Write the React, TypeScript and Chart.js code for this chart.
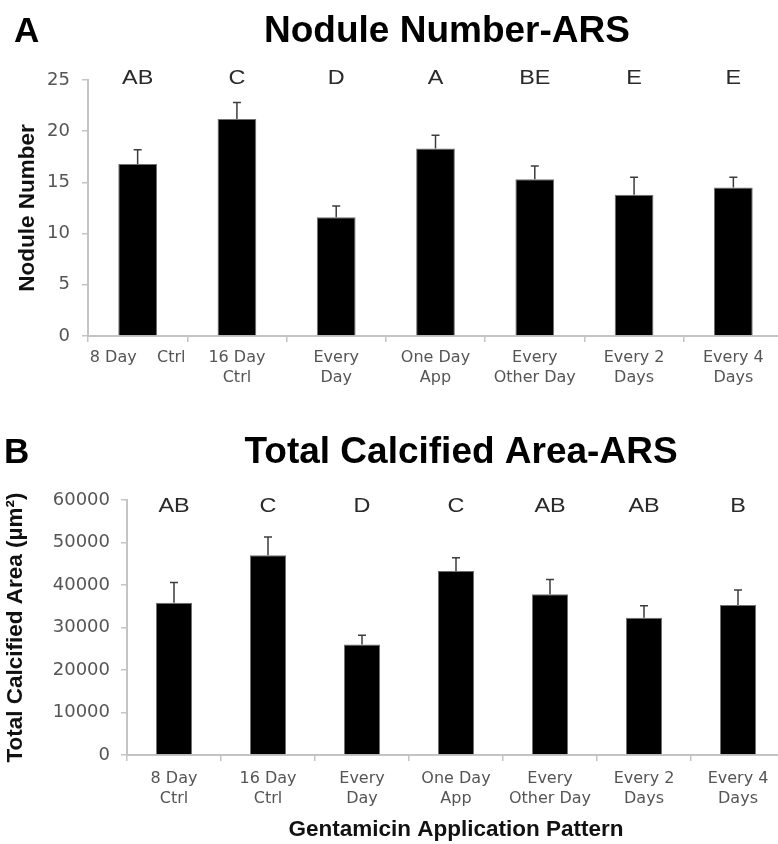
import React, { useEffect, useRef } from "react";
import { Chart, registerables } from "chart.js";

Chart.register(...registerables);

// ---------- Data ----------
const categoriesA: (string | string[])[] = [
  "8 Day    Ctrl",
  ["16 Day", "Ctrl"],
  ["Every", "Day"],
  ["One Day", "App"],
  ["Every", "Other Day"],
  ["Every 2", "Days"],
  ["Every 4", "Days"],
];
const categoriesB: (string | string[])[] = [
  ["8 Day", "Ctrl"],
  ["16 Day", "Ctrl"],
  ["Every", "Day"],
  ["One Day", "App"],
  ["Every", "Other Day"],
  ["Every 2", "Days"],
  ["Every 4", "Days"],
];

const noduleMeans = [16.8, 21.2, 11.6, 18.3, 15.3, 13.8, 14.5];
const noduleErrors = [1.4, 1.6, 1.1, 1.3, 1.3, 1.7, 1.0];
const noduleLetters = ["AB", "C", "D", "A", "BE", "E", "E"];
const noduleTicks = [0, 5, 10, 15, 20, 25];

const areaMeans = [35800, 47000, 26000, 43300, 37800, 32300, 35300];
const areaErrors = [4800, 4300, 2200, 3100, 3500, 2800, 3500];
const areaLetters = ["AB", "C", "D", "C", "AB", "AB", "B"];
const areaTicks = [0, 10000, 20000, 30000, 40000, 50000, 60000];

// ---------- Overlay plugin (error bars, letters, titles) ----------
const overlayPlugin = {
  id: "overlay",
  afterDatasetsDraw(chart: any, _args: any, opts: any) {
    const { ctx } = chart;
    const y = chart.scales.y;
    const meta = chart.getDatasetMeta(0);
    ctx.save();
    // error bars (upper only)
    ctx.strokeStyle = "#3c3c3c";
    ctx.lineWidth = 1.5;
    meta.data.forEach((bar: any, i: number) => {
      const v = opts.means[i];
      const e = opts.errors[i];
      const yBase = y.getPixelForValue(v);
      const yTop = y.getPixelForValue(v + e);
      ctx.beginPath();
      ctx.moveTo(bar.x, yBase);
      ctx.lineTo(bar.x, yTop);
      ctx.moveTo(bar.x - 4, yTop);
      ctx.lineTo(bar.x + 4, yTop);
      ctx.stroke();
    });
    // significance letters
    ctx.fillStyle = "#2a2a2a";
    ctx.font = '19.5px "Liberation Sans", Arial, sans-serif';
    ctx.textAlign = "center";
    ctx.textBaseline = "middle";
    const ly = y.getPixelForValue(y.max) + opts.letterOffset;
    meta.data.forEach((bar: any, i: number) => {
      ctx.save();
      ctx.translate(bar.x, ly);
      ctx.scale(1.2, 1);
      ctx.fillText(opts.letters[i], 0, 0);
      ctx.restore();
    });
    // title
    ctx.fillStyle = "#000";
    ctx.textBaseline = "alphabetic";
    ctx.font = 'bold 37px "Liberation Sans", Arial, sans-serif';
    ctx.textAlign = "center";
    ctx.fillText(opts.title, opts.titleX, opts.titleBaseline);
    // panel letter
    ctx.textAlign = "left";
    ctx.font = 'bold 35px "Liberation Sans", Arial, sans-serif';
    ctx.fillText(opts.panel, opts.panelX, opts.titleBaseline);
    ctx.restore();
  },
};

type PanelProps = {
  top: number;
  height: number;
  labels: (string | string[])[];
  means: number[];
  errors: number[];
  letters: string[];
  ticks: number[];
  yTitle: string;
  yTitlePad: number;
  xTitle?: string;
  title: string;
  titleX: number;
  titleBaseline: number;
  panel: string;
  panelX: number;
  letterOffset: number;
  yWidth: number;
  xHeight: number;
  padTop: number;
  padRight: number;
  barPct: number;
  yTickPad: number;
  xTickPad: number;
};

function Panel(p: PanelProps) {
  const ref = useRef<HTMLCanvasElement | null>(null);
  useEffect(() => {
    if (!ref.current) return;
    const axisColor = "#c4c4c4";
    const chart = new Chart(ref.current, {
      type: "bar",
      data: {
        labels: p.labels as any,
        datasets: [
          {
            data: p.means,
            backgroundColor: "#000000",
            borderColor: "#707070",
            borderWidth: 1,
            barPercentage: p.barPct,
            categoryPercentage: 1,
          },
        ],
      },
      options: {
        responsive: false,
        animation: false,
        layout: { padding: { top: p.padTop, right: p.padRight, bottom: 0, left: 0 } },
        plugins: {
          legend: { display: false },
          tooltip: { enabled: false },
          title: { display: false },
          overlay: {
            means: p.means,
            errors: p.errors,
            letters: p.letters,
            title: p.title,
            titleX: p.titleX,
            titleBaseline: p.titleBaseline,
            panel: p.panel,
            panelX: p.panelX,
            letterOffset: p.letterOffset,
          },
        } as any,
        scales: {
          x: {
            grid: {
              display: true,
              drawOnChartArea: false,
              color: axisColor,
              lineWidth: 1.5,
              tickLength: 6,
              offset: true,
            },
            border: { color: axisColor, width: 2 },
            ticks: {
              color: "#555",
              font: { family: "DejaVu Sans", size: 16, lineHeight: 1.25 },
              padding: p.xTickPad,
              maxRotation: 0,
              minRotation: 0,
              autoSkip: false,
            },
            title: {
              display: !!p.xTitle,
              text: p.xTitle || "",
              color: "#111",
              font: { family: "Liberation Sans", weight: "bold", size: 22.5, lineHeight: 1.2 },
              padding: { top: 0, bottom: 1 },
            },
            afterFit: (s: any) => {
              s.height = p.xHeight;
            },
          } as any,
          y: {
            min: p.ticks[0],
            max: p.ticks[p.ticks.length - 1],
            grid: {
              display: true,
              drawOnChartArea: false,
              color: axisColor,
              lineWidth: 1.5,
              tickLength: 6,
            },
            border: { color: axisColor, width: 2 },
            ticks: {
              stepSize: p.ticks[1] - p.ticks[0],
              color: "#555",
              font: { family: "DejaVu Sans", size: 18 },
              padding: p.yTickPad,
              callback: (v: any) => String(v),
            },
            title: {
              display: true,
              text: p.yTitle,
              color: "#111",
              font: { family: "Liberation Sans", weight: "bold", size: 22.5, lineHeight: 1.2 },
              padding: { top: p.yTitlePad, bottom: 0 },
            },
            afterFit: (s: any) => {
              s.width = p.yWidth;
            },
          } as any,
        },
      },
      plugins: [overlayPlugin as any],
    });
    return () => chart.destroy();
  }, []);
  return (
    <canvas
      ref={ref}
      width={800}
      height={p.height}
      style={{ position: "absolute", left: 0, top: p.top, display: "block" }}
    />
  );
}

export default function App() {
  return (
    <div
      style={{
        position: "absolute",
        left: 0,
        top: 0,
        width: 778,
        height: 844,
        overflow: "hidden",
        background: "#fff",
      }}
    >
      <Panel
        top={0}
        height={410}
        labels={categoriesA}
        means={noduleMeans}
        errors={noduleErrors}
        letters={noduleLetters}
        ticks={noduleTicks}
        yTitle="Nodule Number"
        yTitlePad={14}
        title="Nodule Number-ARS"
        titleX={447}
        titleBaseline={42}
        panel="A"
        panelX={14}
        letterOffset={-1}
        yWidth={88}
        xHeight={74}
        padTop={80}
        padRight={17}
        barPct={0.39}
        yTickPad={12}
        xTickPad={6}
      />
      <Panel
        top={410}
        height={434}
        labels={categoriesB}
        means={areaMeans}
        errors={areaErrors}
        letters={areaLetters}
        ticks={areaTicks}
        yTitle="Total Calcified Area (µm²)"
        yTitlePad={2}
        xTitle="Gentamicin Application Pattern"
        title="Total Calcified Area-ARS"
        titleX={461}
        titleBaseline={53}
        panel="B"
        panelX={4}
        letterOffset={7}
        yWidth={127}
        xHeight={89}
        padTop={90}
        padRight={15}
        barPct={0.385}
        yTickPad={11}
        xTickPad={8}
      />
    </div>
  );
}
